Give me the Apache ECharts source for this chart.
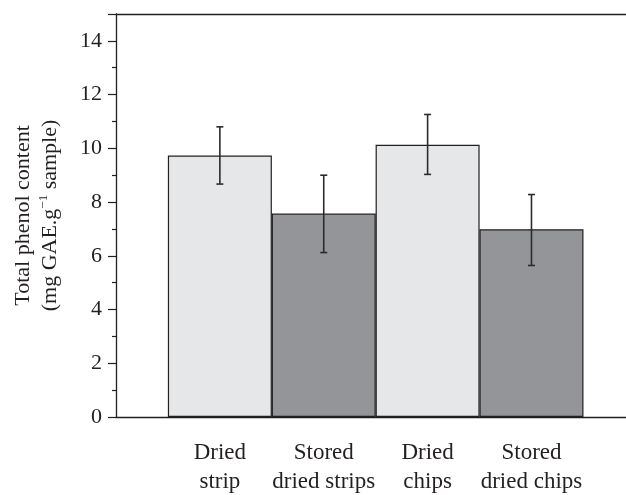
<!DOCTYPE html>
<html>
<head>
<meta charset="utf-8">
<script src="https://cdn.jsdelivr.net/npm/echarts@6/dist/echarts.min.js"></script>
<style>html,body{margin:0;padding:0;background:#fff}#c{width:626px;height:495px}</style>
</head>
<body>
<div id="c"></div>
<script>
var categories = ['Dried\nstrip', 'Stored\ndried strips', 'Dried\nchips', 'Stored\ndried chips'];
var positions = [1, 2, 3, 4];
var values = [9.73, 7.57, 10.13, 6.99];
var errLow = [8.67, 6.12, 9.03, 5.64];
var errHigh = [10.80, 9.00, 11.26, 8.28];
var barColors = ['#e6e7e8', '#939598', '#e6e7e8', '#939598'];
var yTicks = [0, 2, 4, 6, 8, 10, 12, 14];

var FONT = '"Liberation Serif", "DejaVu Serif", serif';
var INK = '#231f20';

var chart = echarts.init(document.getElementById('c'), null, {renderer: 'canvas'});

var barData = positions.map(function (p, i) {
  return { value: [p, values[i]], itemStyle: { color: barColors[i] } };
});
var errData = positions.map(function (p, i) { return [p, errLow[i], errHigh[i]]; });

chart.setOption({
  animation: false,
  backgroundColor: '#fff',
  grid: { left: 116, top: 14, right: 0, bottom: 78, containLabel: false, outerBoundsMode: 'none' },
  xAxis: [{
    type: 'value', min: 0, max: 4.91, interval: 1,
    axisLine: { show: true, lineStyle: { color: INK, width: 1.3 } },
    axisTick: { show: false },
    splitLine: { show: false },
    axisLabel: {
      show: true, margin: 21, color: INK,
      fontFamily: FONT, fontSize: 23, lineHeight: 29,
      showMinLabel: true, showMaxLabel: false,
      formatter: function (v) {
        var k = Math.round(v);
        if (Math.abs(v - k) > 1e-6 || k < 1 || k > categories.length) return '';
        return categories[k - 1];
      }
    }
  }, {
    type: 'value', min: 0, max: 4.91, position: 'top',
    axisLine: { show: true, lineStyle: { color: INK, width: 1.3 } },
    axisTick: { show: false }, axisLabel: { show: false }, splitLine: { show: false }
  }],
  yAxis: {
    type: 'value', min: 0, max: 15, interval: 2,
    axisLine: { show: true, lineStyle: { color: INK, width: 1.3 } },
    axisTick: { show: true, inside: false, length: 8, lineStyle: { color: INK, width: 1.2 } },
    minorTick: { show: true, splitNumber: 2, length: 4, lineStyle: { color: INK, width: 1.2 } },
    splitLine: { show: false },
    axisLabel: {
      margin: 14, color: INK, fontFamily: FONT, fontSize: 22,
      showMaxLabel: false,
      formatter: function (v) { return yTicks.indexOf(v) >= 0 ? String(v) : ''; }
    },
    name: 'Total phenol content\n(mg GAE.g{sup|\u22121} sample)',
    nameLocation: 'middle', nameRotate: 90, nameGap: 52,
    nameTextStyle: {
      color: INK, fontFamily: FONT, fontSize: 22, lineHeight: 27,
      rich: { sup: { fontFamily: FONT, fontSize: 13, verticalAlign: 'top', padding: [0, 0, 9, 0], color: INK } }
    }
  },
  series: [{
    type: 'bar', xAxisIndex: 0, barWidth: 104,
    data: barData,
    itemStyle: { borderColor: INK, borderWidth: 1.2 },
    z: 2
  }, {
    type: 'custom', xAxisIndex: 0, z: 5,
    data: errData,
    renderItem: function (params, api) {
      var x = api.value(0);
      var lo = api.coord([x, api.value(1)]);
      var hi = api.coord([x, api.value(2)]);
      var hw = 3.5;
      var st = { stroke: '#2b2b2b', lineWidth: 1.6 };
      return {
        type: 'group',
        children: [
          { type: 'line', shape: { x1: lo[0], y1: lo[1], x2: hi[0], y2: hi[1] }, style: st },
          { type: 'line', shape: { x1: lo[0] - hw, y1: lo[1], x2: lo[0] + hw, y2: lo[1] }, style: st },
          { type: 'line', shape: { x1: hi[0] - hw, y1: hi[1], x2: hi[0] + hw, y2: hi[1] }, style: st }
        ]
      };
    }
  }]
});
</script>
</body>
</html>
